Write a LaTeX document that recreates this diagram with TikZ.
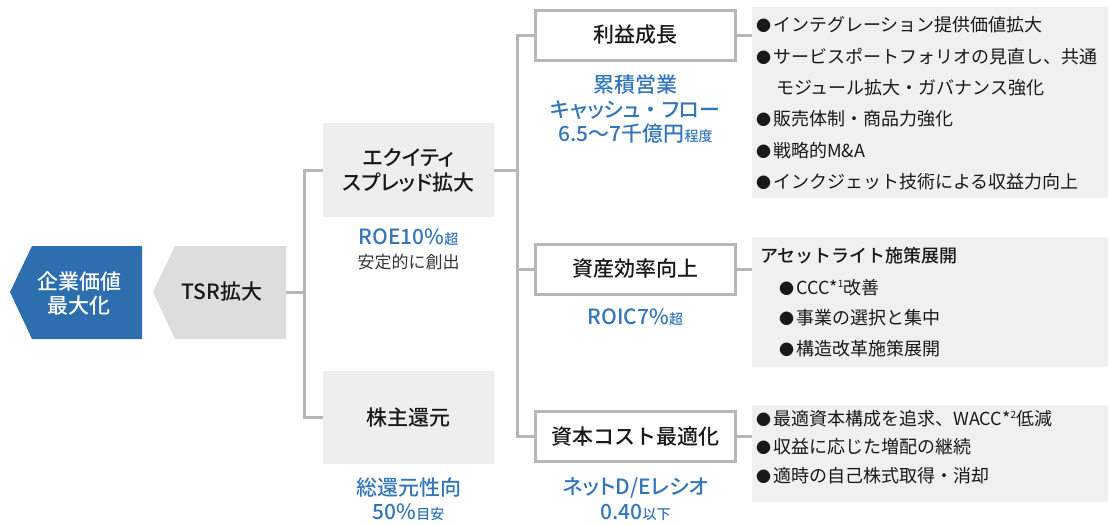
\documentclass[tikz,border=0pt]{standalone}
\usepackage{fontspec}
\setmainfont{Noto Sans CJK JP}[BoldFont={Noto Sans CJK JP Medium}]
\newfontfamily\jppalt{Noto Sans CJK JP}[BoldFont={Noto Sans CJK JP Medium},RawFeature=+palt]
\definecolor{bluefill}{RGB}{44,110,174}
\definecolor{bluetext}{RGB}{52,118,186}
\definecolor{linegray}{RGB}{182,183,183}
\definecolor{boxgray}{RGB}{237,238,238}
\definecolor{panelgray}{RGB}{239,240,240}
\definecolor{tsrgray}{RGB}{220,221,221}
\definecolor{txt}{RGB}{25,25,25}
\definecolor{subtxt}{RGB}{55,55,55}
\newcommand{\smalltag}[1]{{\fontsize{14}{14}\selectfont #1}}
\newcommand{\bul}{{\fontsize{15}{15}\selectfont ●}\hspace{2pt}}
\newcommand{\supnum}[1]{\raisebox{0.42em}{\fontsize{10}{10}\selectfont #1}}
\begin{document}
\begin{tikzpicture}[x=1pt,y=-1pt,
  conn/.style={draw=linegray, line width=3pt},
  lightbox/.style={fill=boxgray, minimum width=171pt, minimum height=94pt, inner sep=0pt, align=center, text=txt, font=\jppalt\fontsize{21}{25}\selectfont\bfseries},
  framebox/.style={draw=linegray, line width=3pt, fill=white, minimum width=200pt, minimum height=50pt, inner sep=0pt, text=txt, font=\fontsize{21}{25}\selectfont\bfseries},
  panel/.style={fill=panelgray, inner sep=0pt, minimum width=356pt},
  item/.style={anchor=west, inner sep=0pt, text=txt, font=\fontsize{18}{18}\selectfont},
  kpi/.style={align=center, inner sep=0pt, text=bluetext, font=\jppalt\fontsize{21}{24.5}\selectfont\bfseries},
  shape text/.style={inner sep=0pt, align=center, font=\fontsize{21}{24}\selectfont\bfseries}
]
\useasboundingbox (0,0) rectangle (1110,525);

% left arrow shapes
\fill[bluefill] (10,292) -- (32,246) -- (142,246) -- (142,339) -- (32,339) -- cycle;
\node[shape text, text=white] (kigyo) at (79,293) {企業価値\\最大化};
\fill[tsrgray] (153,292) -- (175,246) -- (286,246) -- (286,339) -- (175,339) -- cycle;
\node[shape text, text=txt] (tsr) at (222,292) {TSR拡大};
\coordinate (tsrR) at (286,292);

% second level
\node[lightbox] (eq) at (408.5,170) {エクイティ\\スプレッド拡大};
\node[lightbox, minimum height=93pt] (sh) at (408.5,417.5) {株主還元};
\node[kpi] (roe) at (408.5,237) {ROE10\%\smalltag{超}};
\node[inner sep=0pt, text=subtxt, font=\fontsize{17}{17}\selectfont] (antei) at (408.5,262) {安定的に創出};
\node[kpi] (sokan) at (408.5,499) {総還元性向\\50\%\smalltag{目安}};

\coordinate (j1) at (304,292);
\draw[conn] (tsrR) -- (j1);
\draw[conn] (eq.west) -| (j1);
\draw[conn] (sh.west) -| (j1);

% third level
\node[framebox] (rieki) at (635.5,35) {利益成長};
\node[framebox] (shisan) at (635.5,269) {資産効率向上};
\node[framebox] (shihon) at (635.5,436.5) {資本コスト最適化};
\node[kpi] (cf) at (635.5,109) {累積営業\\キャッシュ\hspace{5pt}・\hspace{5pt}フロー\\6.5〜7千億円\smalltag{程度}};
\node[kpi] (roic) at (635.5,317) {ROIC7\%\smalltag{超}};
\node[kpi] (de) at (635.5,499) {ネットD/Eレシオ\\0.40\smalltag{以下}};

\coordinate (j2) at (517,170);
\draw[conn] (eq.east) -- (j2);
\draw[conn] (rieki.west) -| (j2);
\draw[conn] (shisan.west) -| (j2);
\draw[conn] (shihon.west) -| (j2);

% panels
\node[panel, minimum height=191pt] (p1) at (930,102.5) {};
\node[panel, minimum height=130pt] (p2) at (930,302) {};
\node[panel, minimum height=97pt] (p3) at (930,453.5) {};
\draw[conn] (rieki.east) -- (rieki.east -| p1.west);
\draw[conn] (shisan.east) -- (shisan.east -| p2.west);
\draw[conn] (shihon.east) -- (shihon.east -| p3.west);

% panel 1 items
\node[item] (a1) at (756,25) {\bul インテグレーション提供価値拡大};
\node[item] (a2) at (756,57) {\bul サービスポートフォリオの見直し、共通};
\node[item] (a3) at (776,88) {モジュール拡大・ガバナンス強化};
\node[item] (a4) at (756,119) {\bul 販売体制・商品力強化};
\node[item] (a5) at (756,151) {\bul 戦略的M\&A};
\node[item] (a6) at (756,182) {\bul インクジェット技術による収益力向上};

% panel 2 items
\node[item, font=\fontsize{18}{18}\selectfont\bfseries] (b0) at (760,256) {アセットライト施策展開};
\node[item] (b1) at (779,288) {\bul CCC*\supnum{1}改善};
\node[item] (b2) at (779,318) {\bul 事業の選択と集中};
\node[item] (b3) at (779,349) {\bul 構造改革施策展開};

% panel 3 items
\node[item] (c1) at (756,419) {\bul 最適資本構成を追求、WACC*\supnum{2}低減};
\node[item] (c2) at (756,447) {\bul 収益に応じた増配の継続};
\node[item] (c3) at (756,476) {\bul 適時の自己株式取得・消却};
\end{tikzpicture}
\end{document}
